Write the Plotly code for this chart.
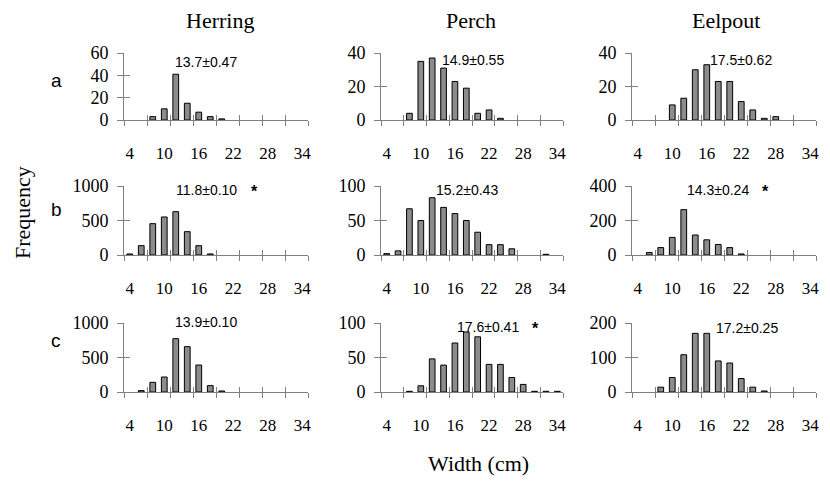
import plotly.graph_objects as go

W, H = 830, 483

# ---------------- data ----------------
width_classes = [4, 6, 8, 10, 12, 14, 16, 18, 20, 22, 24, 26, 28, 30, 32, 34]
x_tick_labels = [4, 10, 16, 22, 28, 34]
species = ["Herring", "Perch", "Eelpout"]
row_labels = ["a", "b", "c"]
N = None

herring_a = [N, N, 3, 10, 41, 15, 7, 3, 1, N, N, N, N, N, N, N]
perch_a   = [N, N, 4, 35, 37, 31, 23, 19, 4, 6, 1, N, N, N, N, N]
eelpout_a = [N, N, N, 9, 13, 30, 33, 23, 23, 11, 6, 1, 2, N, N, N]

herring_b = [15, 135, 454, 551, 628, 338, 135, 15, N, N, N, N, N, N, N, N]
perch_b   = [2, 6, 67, 50, 83, 69, 60, 50, 33, 15, 15, 9, N, N, 1, N]
eelpout_b = [N, 14, 43, 102, 263, 116, 88, 61, 43, 6, N, N, N, N, N, N]

herring_c = [N, 20, 140, 217, 773, 657, 391, 92, 15, N, N, N, N, N, N, N]
perch_c   = [N, N, 1, 9, 48, 39, 71, 87, 80, 40, 40, 21, 11, 1, 1, 1]
eelpout_c = [N, N, 14, 42, 108, 170, 170, 90, 84, 39, 14, 3, N, N, N, N]

y_ticks = [
    [0, 20, 40, 60], [0, 20, 40], [0, 20, 40],
    [0, 500, 1000], [0, 50, 100], [0, 200, 400],
    [0, 500, 1000], [0, 50, 100], [0, 100, 200],
]
mean_labels = [
    "13.7±0.47", "14.9±0.55", "17.5±0.62",
    "11.8±0.10", "15.2±0.43", "14.3±0.24",
    "13.9±0.10", "17.6±0.41", "17.2±0.25",
]
significant = [False, False, False, True, False, True, False, True, False]

series = [herring_a, perch_a, eelpout_a,
          herring_b, perch_b, eelpout_b,
          herring_c, perch_c, eelpout_c]

# ---------------- layout helpers ----------------
col_px = [(124, 308), (381, 563), (632, 816)]
row_px = [(53, 120), (186, 255), (323, 392)]


def fx(p):
    return p / W


def fy(p):
    return 1 - p / H


AX = "#808080"
FILL = "#8c8c8c"
SERIF = "Liberation Serif, Times New Roman, serif"
SANS = "Liberation Sans, Arial, sans-serif"

boundaries = [3 + 4 * i for i in range(9)]


def axid(letter, n):
    return letter if n == 1 else f"{letter}{n}"


def axkey(letter, n):
    return f"{letter}axis" if n == 1 else f"{letter}axis{n}"


fig = go.Figure()
layout = {}
for k, vals in enumerate(series):
    r, c = divmod(k, 3)
    xid, yid = axid("x", k + 1), axid("y", k + 1)
    xin, xlab = axid("x", k + 10), axid("x", k + 19)
    yin = axid("y", k + 10)
    ymax = y_ticks[k][-1]

    fig.add_trace(go.Bar(
        x=width_classes, y=vals, xaxis=xid, yaxis=yid, width=1.0,
        marker=dict(color=FILL, line=dict(color="black", width=1)),
        showlegend=False, hoverinfo="x+y",
    ))
    # empty helper traces so every overlay axis owns a subplot
    for xa_, ya_ in [(xin, yid), (xlab, yid), (xid, yin)]:
        fig.add_trace(go.Scatter(x=[None], y=[None], xaxis=xa_, yaxis=ya_,
                                 mode="markers", showlegend=False, hoverinfo="skip"))

    common_x = dict(range=[3, 35], showgrid=False, zeroline=False, fixedrange=True,
                    automargin=False)
    # outward tick marks at class boundaries (main axis with line)
    layout[axkey("x", k + 1)] = dict(
        domain=[fx(col_px[c][0]), fx(col_px[c][1])], anchor=yid,
        tickmode="array", tickvals=boundaries,
        ticks="outside", ticklen=5, tickcolor=AX, tickwidth=1,
        showticklabels=False, showline=True, linecolor=AX, linewidth=1,
        **common_x,
    )
    # inward tick marks at the same positions
    layout[axkey("x", k + 10)] = dict(
        overlaying=xid, anchor=yid,
        tickmode="array", tickvals=boundaries,
        ticks="inside", ticklen=5, tickcolor=AX, tickwidth=1,
        showticklabels=False, showline=False,
        **common_x,
    )
    # labels every third class
    layout[axkey("x", k + 19)] = dict(
        overlaying=xid, anchor=yid,
        tickmode="array", tickvals=x_tick_labels,
        ticktext=[str(v) for v in x_tick_labels],
        ticks="outside", ticklen=18, tickcolor="rgba(0,0,0,0)",
        showticklabels=True,
        tickfont=dict(family=SERIF, size=17, color="black"),
        showline=False,
        **common_x,
    )
    layout[axkey("y", k + 1)] = dict(
        domain=[fy(row_px[r][1]), fy(row_px[r][0])], anchor=xid,
        range=[0, ymax], tickmode="array", tickvals=y_ticks[k],
        ticks="outside", ticklen=6, tickcolor=AX, tickwidth=1,
        ticklabelstandoff=5,
        tickfont=dict(family=SERIF, size=18, color="black"),
        showline=True, linecolor=AX, linewidth=1,
        showgrid=False, zeroline=False, fixedrange=True, automargin=False,
    )
    layout[axkey("y", k + 10)] = dict(
        overlaying=yid, anchor=xid, range=[0, ymax],
        tickmode="array", tickvals=y_ticks[k],
        ticks="inside", ticklen=6, tickcolor=AX, tickwidth=1,
        showticklabels=False, showline=False, showgrid=False,
        zeroline=False, fixedrange=True, automargin=False,
    )

annotations = []


def note(text, x, y, font, **kw):
    d = dict(text=text, x=fx(x), y=fy(y), xref="paper", yref="paper",
             xanchor="center", yanchor="middle", showarrow=False, font=font)
    d.update(kw)
    annotations.append(d)


title_font = dict(family=SERIF, size=22, color="black")
# column titles
title_x = [220, 471, 726]
for s, tx in zip(species, title_x):
    note(s, tx, 20, title_font)
# row letters
row_y = [81, 209, 340]
for lab, ry in zip(row_labels, row_y):
    note(lab, 56, ry, dict(family=SANS, size=19, color="black"))
# mean labels
mean_pos = [(206, 62), (473, 60), (741, 60),
            (206, 190), (467, 190), (718, 190),
            (206, 322), (488, 327), (747, 328)]
star_x = {3: 254, 5: 765, 7: 535}
for k, (lab, (mx, my)) in enumerate(zip(mean_labels, mean_pos)):
    note(lab, mx, my, dict(family=SANS, size=14, color="black"))
    if significant[k]:
        note("<b>*</b>", star_x[k], my + 1, dict(family=SANS, size=16, color="black"))
note("Frequency", 22, 213, title_font, textangle=-90)
note("Width (cm)", 478, 463, title_font)

fig.update_layout(
    template="none",
    width=W, height=H, margin=dict(l=0, r=0, t=0, b=0, autoexpand=False),
    paper_bgcolor="white", plot_bgcolor="white", showlegend=False,
    annotations=annotations, **layout,
)

fig.write_html("out.html", config={"displayModeBar": False},
               post_script="document.body.style.margin='0px';")
